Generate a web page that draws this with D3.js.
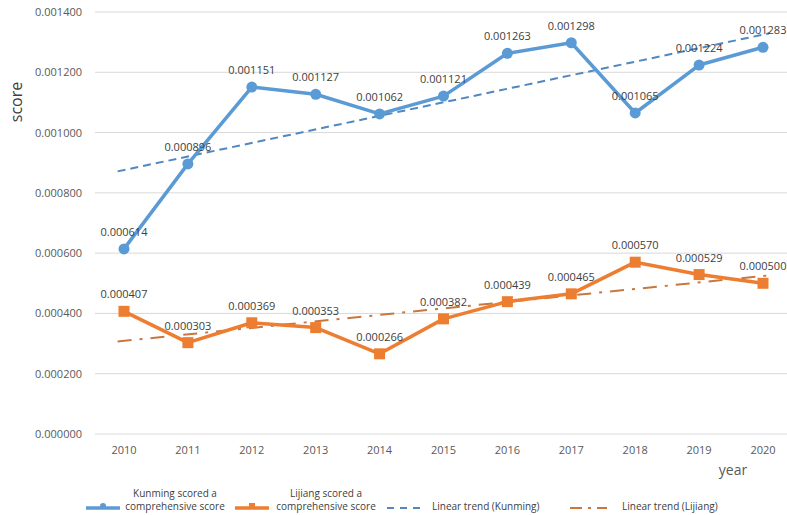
<!DOCTYPE html>
<html lang="en">
  <head>
    <meta charset="UTF-8" />
    <title>Kunming vs Lijiang score</title>
    <style>
      body { margin: 0; background: #fff; font-family: 'Open Sans', Arial, sans-serif; }
      .tick-label { fill: #595959; font-size: 11px; }
      .data-label { fill: #404040; font-size: 11px; }
      .legend-text { fill: #404040; font-size: 10px; }
    </style>
  </head>
  <body>
    <script src="https://d3js.org/d3.v7.min.js"></script>
    <script>
      const years = [2010, 2011, 2012, 2013, 2014, 2015, 2016, 2017, 2018, 2019, 2020];
      const kunming = [0.000614, 0.000896, 0.001151, 0.001127, 0.001062, 0.001121, 0.001263, 0.001298, 0.001065, 0.001224, 0.001283];
      const lijiang = [0.000407, 0.000303, 0.000369, 0.000353, 0.000266, 0.000382, 0.000439, 0.000465, 0.000570, 0.000529, 0.000500];
      const yTicks = [0, 0.0002, 0.0004, 0.0006, 0.0008, 0.001, 0.0012, 0.0014];

      const width = 787;
      const height = 515;
      const blue = '#5b9bd5';
      const orange = '#ed7d31';
      const blueTrend = '#5088bf';
      const orangeTrend = '#c8773f';

      const svg = d3.select('body').append('svg').attr('width', width).attr('height', height);

      const x = d3.scaleLinear().domain([2010, 2020]).range([124, 763]);
      const y = d3.scaleLinear().domain([0, 0.0014]).range([434, 12]);

      // gridlines + y labels
      svg.append('g').selectAll('line').data(yTicks).join('line')
        .attr('x1', 95).attr('x2', width)
        .attr('y1', d => y(d)).attr('y2', d => y(d))
        .attr('stroke', '#d9d9d9').attr('stroke-width', 1);

      svg.append('g').selectAll('text').data(yTicks).join('text')
        .attr('class', 'tick-label')
        .attr('x', 82).attr('y', d => y(d) + 4)
        .attr('text-anchor', 'end')
        .text(d => d.toFixed(6));

      svg.append('g').selectAll('text').data(years).join('text')
        .attr('class', 'tick-label')
        .attr('x', d => x(d)).attr('y', 454)
        .attr('text-anchor', 'middle')
        .text(d => d);

      svg.append('text').attr('x', 733).attr('y', 475).attr('text-anchor', 'middle')
        .attr('fill', '#595959').attr('font-size', 14).text('year');
      svg.append('text').attr('transform', 'translate(22,102) rotate(-90)').attr('text-anchor', 'middle')
        .attr('fill', '#404040').attr('font-size', 16).text('score');

      // linear trends (least squares)
      function trend(vals) {
        const mx = d3.mean(years), my = d3.mean(vals);
        const sxy = d3.sum(years, (t, i) => (t - mx) * (vals[i] - my));
        const sxx = d3.sum(years, t => (t - mx) * (t - mx));
        const b = sxy / sxx;
        return t => my + b * (t - mx);
      }
      const tk = trend(kunming), tl = trend(lijiang);
      const x0 = 2009.9, x1 = 2020.1;

      svg.append('line')
        .attr('x1', x(x0)).attr('y1', y(tk(x0))).attr('x2', x(x1)).attr('y2', y(tk(x1)))
        .attr('stroke', blueTrend).attr('stroke-width', 2).attr('stroke-dasharray', '8,5');
      svg.append('line')
        .attr('x1', x(x0)).attr('y1', y(tl(x0))).attr('x2', x(x1)).attr('y2', y(tl(x1)))
        .attr('stroke', orangeTrend).attr('stroke-width', 2).attr('stroke-dasharray', '14,8,3,8');

      const line = d3.line().x((d, i) => x(years[i])).y(d => y(d));

      svg.append('path').attr('d', line(kunming)).attr('fill', 'none')
        .attr('stroke', blue).attr('stroke-width', 3.5).attr('stroke-linejoin', 'round');
      svg.append('path').attr('d', line(lijiang)).attr('fill', 'none')
        .attr('stroke', orange).attr('stroke-width', 3.5).attr('stroke-linejoin', 'round');

      svg.append('g').selectAll('circle').data(kunming).join('circle')
        .attr('cx', (d, i) => x(years[i])).attr('cy', d => y(d)).attr('r', 5.5)
        .attr('fill', blue);
      svg.append('g').selectAll('rect').data(lijiang).join('rect')
        .attr('x', (d, i) => x(years[i]) - 5.5).attr('y', d => y(d) - 5.5)
        .attr('width', 11).attr('height', 11).attr('fill', orange);

      // data labels
      const fmt = d => d.toFixed(6);
      svg.append('g').selectAll('text').data(kunming).join('text')
        .attr('class', 'data-label')
        .attr('x', (d, i) => x(years[i])).attr('y', d => y(d) - 13)
        .attr('text-anchor', 'middle').text(fmt);
      svg.append('g').selectAll('text').data(lijiang).join('text')
        .attr('class', 'data-label')
        .attr('x', (d, i) => x(years[i])).attr('y', d => y(d) - 13)
        .attr('text-anchor', 'middle').text(fmt);

      // legend
      const lg = svg.append('g');
      function lineKey(x0, color, marker) {
        lg.append('line').attr('x1', x0).attr('x2', x0 + 34).attr('y1', 508).attr('y2', 508)
          .attr('stroke', color).attr('stroke-width', 3.5);
        if (marker === 'circle') lg.append('circle').attr('cx', x0 + 17).attr('cy', 506).attr('r', 3).attr('fill', color);
        else lg.append('rect').attr('x', x0 + 14).attr('y', 503).attr('width', 6).attr('height', 5).attr('fill', color);
      }
      lineKey(86, blue, 'circle');
      lg.append('text').attr('class', 'legend-text').attr('x', 175).attr('y', 497).attr('text-anchor', 'middle').text('Kunming scored a');
      lg.append('text').attr('class', 'legend-text').attr('x', 175).attr('y', 510).attr('text-anchor', 'middle').text('comprehensive score');
      lineKey(235, orange, 'rect');
      lg.append('text').attr('class', 'legend-text').attr('x', 326).attr('y', 497).attr('text-anchor', 'middle').text('Lijiang scored a');
      lg.append('text').attr('class', 'legend-text').attr('x', 326).attr('y', 510).attr('text-anchor', 'middle').text('comprehensive score');
      lg.append('line').attr('x1', 387).attr('x2', 422).attr('y1', 508).attr('y2', 508)
        .attr('stroke', blueTrend).attr('stroke-width', 2).attr('stroke-dasharray', '7,6');
      lg.append('text').attr('class', 'legend-text').attr('x', 432).attr('y', 510).text('Linear trend (Kunming)');
      lg.append('line').attr('x1', 570).attr('x2', 607).attr('y1', 508).attr('y2', 508)
        .attr('stroke', orangeTrend).attr('stroke-width', 2).attr('stroke-dasharray', '12,6,3,6');
      lg.append('text').attr('class', 'legend-text').attr('x', 622).attr('y', 510).text('Linear trend (Lijiang)');
    </script>
  </body>
</html>
